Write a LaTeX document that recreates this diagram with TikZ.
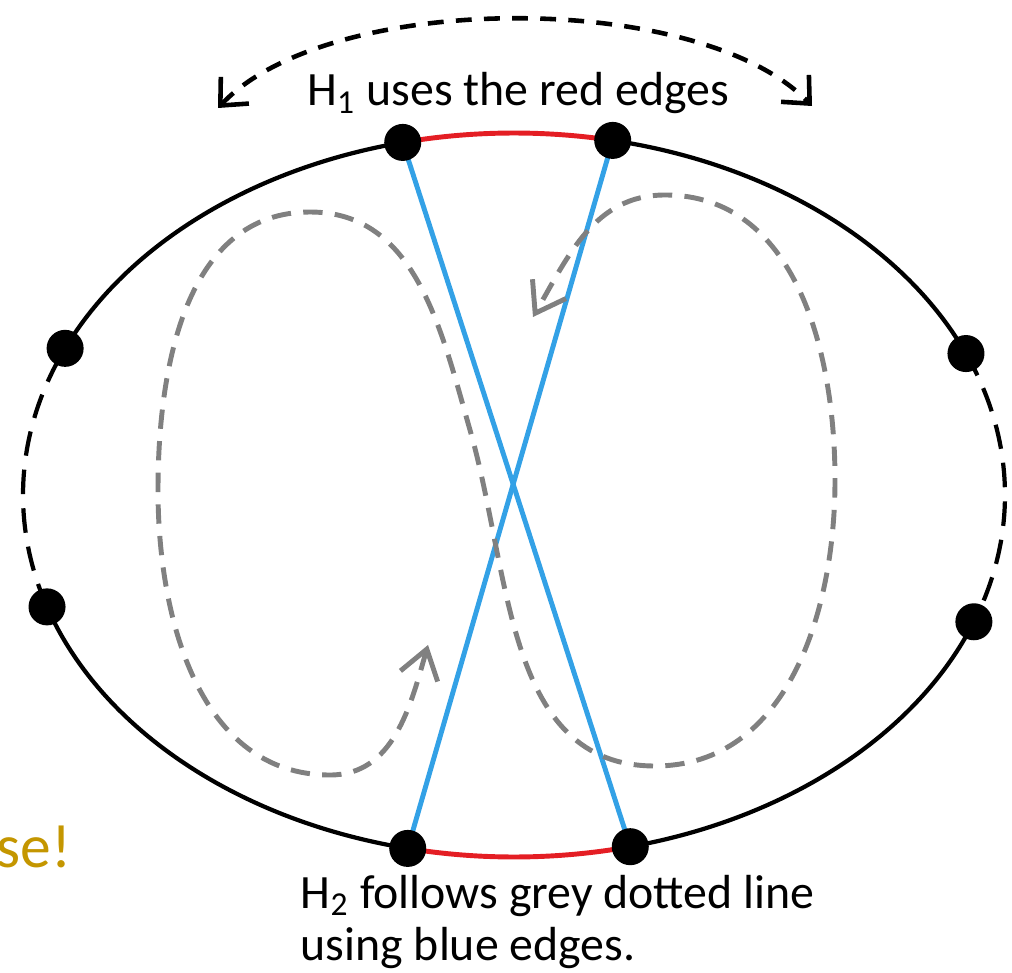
\documentclass[tikz,border=0pt]{standalone}
\usepackage{fontspec}
\setmainfont{Carlito}
\usetikzlibrary{arrows.meta, calc, backgrounds}
\definecolor{edgered}{RGB}{228,30,36}
\definecolor{edgeblue}{RGB}{51,161,230}
\definecolor{loopgrey}{RGB}{128,128,128}
\definecolor{warngold}{RGB}{196,150,0}

\begin{document}
\begin{tikzpicture}[
    x=0.01cm, y=0.01cm,
    dot/.style={circle, fill=black, inner sep=0pt, minimum size=0.37cm},
    ring/.style={line width=1.2pt},
    ringdash/.style={line width=1.2pt, dash pattern=on 7pt off 4pt},
    red edge/.style={draw=edgered, line width=1.4pt},
    blue edge/.style={draw=edgeblue, line width=1.4pt},
    route/.style={draw=loopgrey, line width=1.4pt, dash pattern=on 5.5pt off 3.5pt,
        {Straight Barb[length=8pt, width=11pt]}-{Straight Barb[length=8pt, width=11pt]}},
    swap/.style={line width=1.3pt, dash pattern=on 4.5pt off 3.5pt,
        {Straight Barb[length=6pt, width=11pt]}-{Straight Barb[length=6pt, width=11pt]}},
    lbl/.style={font=\fontsize{13.6}{14.8}\selectfont, align=left, inner sep=0pt},
    on ring/.style={x radius=491, y radius=362}
]
    \useasboundingbox (0,0) rectangle (1012,-973);
    \coordinate (O) at (514,-495);

    % vertices on the cycle
    \node[dot] (topL) at ($(O)+(103.1:491 and 362)$) {};
    \node[dot] (topR) at ($(O)+(78.4:491 and 362)$) {};
    \node[dot] (upR)  at ($(O)+(23:491 and 362)$) {};
    \node[dot] (lowR) at ($(O)+(-20.5:491 and 362)$) {};
    \node[dot] (botR) at ($(O)+(-76.3:491 and 362)$) {};
    \node[dot] (botL) at ($(O)+(-102.5:491 and 362)$) {};
    \node[dot] (lowL) at ($(O)+(-162:491 and 362)$) {};
    \node[dot] (upL)  at ($(O)+(156.1:491 and 362)$) {};

    \begin{scope}[on background layer]
        \draw[red edge] (topL.center) arc[on ring, start angle=103.1, end angle=78.4];
        \draw[ring] (topR.center) arc[on ring, start angle=78.4, end angle=23];
        \draw[ringdash] (upR.center) arc[on ring, start angle=23, end angle=-20.5];
        \draw[ring] (lowR.center) arc[on ring, start angle=-20.5, end angle=-76.3];
        \draw[red edge] (botR.center) arc[on ring, start angle=-76.3, end angle=-102.5];
        \draw[ring] (botL.center) arc[on ring, start angle=-102.5, end angle=-162];
        \draw[ringdash] (lowL.center) arc[on ring, start angle=-162, end angle=-203.9];
        \draw[ring] (upL.center) arc[on ring, start angle=156.1, end angle=103.1];
        % blue chords
        \draw[blue edge] (topL.center) -- (botR.center);
        \draw[blue edge] (topR.center) -- (botL.center);
    \end{scope}

    % grey figure eight
    \coordinate (routeS) at (428,-645);
    \coordinate (routeE) at (533,-317);
    \draw[route] (routeS) to[out=-106, in=0] (330,-775) to[out=180, in=-90] (158,-490)
        to[out=90, in=180] (310,-212) to[out=0, in=106] (470,-430)
        to[out=-74, in=180] (655,-766) to[out=0, in=-90] (835,-480)
        to[out=90, in=0] (665,-195) to[out=180, in=60] (routeE);

    % swap arrow on top
    \coordinate (swapL) at (218,-108);
    \coordinate (swapR) at (812,-106);
    \draw[swap] (swapL) .. controls (330,10) and (700,10) .. (swapR);

    \node[lbl, anchor=base] (h1) at (518,-106) {H\textsubscript{1} uses the red edges};
    \node[lbl, anchor=base west] (h2) at (300,-908) {H\textsubscript{2} follows grey dotted line};
    \node[lbl, anchor=base west] (h2b) at (300,-960) {using blue edges.};
    \node[font=\fontsize{17.5}{19}\selectfont, text=warngold, anchor=base east, inner sep=0pt] (warn) at (72,-867) {se!};
\end{tikzpicture}
\end{document}
